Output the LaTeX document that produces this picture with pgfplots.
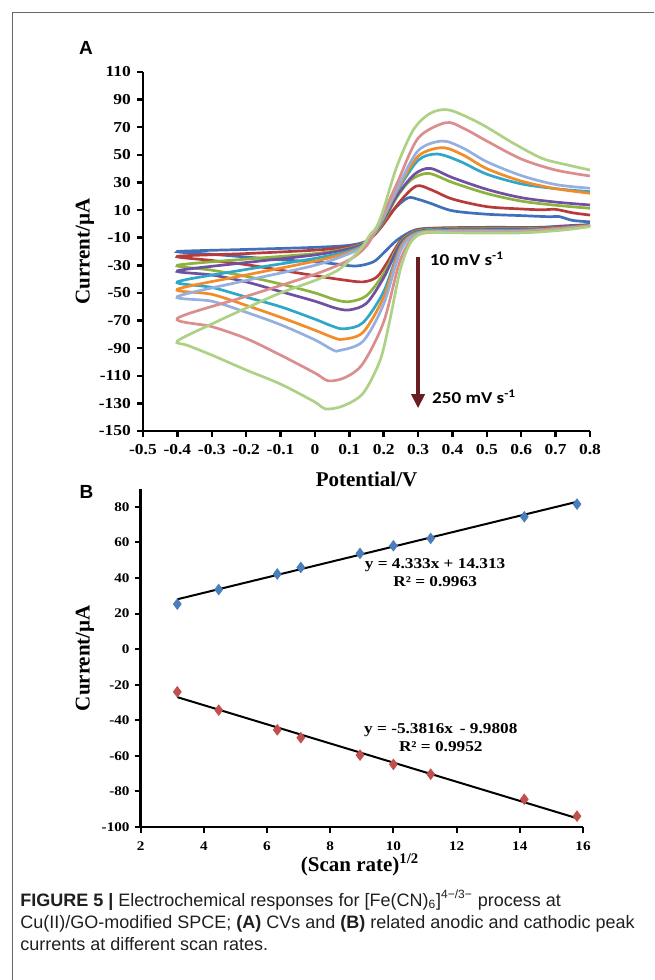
\documentclass[border=0pt]{standalone}
\usepackage{fontspec}
\setmainfont{Liberation Serif}
\newfontfamily\cf{Liberation Serif}[FakeStretch=1.15]
\newfontfamily\calfont{Carlito}[FakeStretch=1.15]
\newfontfamily\capfont{Liberation Sans}
\usepackage{pgfplots}
\pgfplotsset{compat=1.18}
\usetikzlibrary{arrows.meta}

\definecolor{cvA}{HTML}{4070B9}
\definecolor{cvB}{HTML}{B83B3B}
\definecolor{cvC}{HTML}{8DB33F}
\definecolor{cvD}{HTML}{7050A0}
\definecolor{cvE}{HTML}{2EA8C6}
\definecolor{cvF}{HTML}{F28C28}
\definecolor{cvG}{HTML}{95B0E0}
\definecolor{cvH}{HTML}{DB8E8E}
\definecolor{cvI}{HTML}{AED285}
\definecolor{arrowc}{HTML}{6B1E22}
\definecolor{anod}{HTML}{4A7EBB}
\definecolor{cath}{HTML}{C0504D}

\newcommand{\labfont}{\bfseries\fontsize{10.5}{11}\selectfont}

\pgfplotsset{
  panel/.style={
    scale only axis, clip=false,
    axis x line=bottom, axis y line=left,
    axis line style={-, line width=1.4pt, black},
    tick style={black, line width=1.2pt},
    tick align=outside, major tick length=3pt,
  },
}

\begin{document}
\begin{tikzpicture}
\useasboundingbox (0,0) rectangle (327pt,-490pt);
\draw[black!60, line width=0.5pt] (6pt,-490pt) -- (6pt,-6pt) -- (327pt,-6pt);

\node[font=\capfont\bfseries\fontsize{9.5}{10}\selectfont] at (43pt,-24pt) {A};
\node[font=\capfont\bfseries\fontsize{9.5}{10}\selectfont] at (43.3pt,-245.8pt) {B};

% ---------------- panel A: cyclic voltammograms
\begin{axis}[panel,
  at={(71.5pt,-215.5pt)}, anchor=south west,
  width=223.5pt, height=179.5pt,
  xmin=-0.5, xmax=0.8, ymin=-150, ymax=110,
  xtick={-0.5,-0.4,-0.3,-0.2,-0.1,0,0.1,0.2,0.3,0.4,0.5,0.6,0.7,0.8},
  xticklabels={-0.5,-0.4,-0.3,-0.2,-0.1,0,0.1,0.2,0.3,0.4,0.5,0.6,0.7,0.8},
  ytick={-150,-130,-110,-90,-70,-50,-30,-10,10,30,50,70,90,110},
  yticklabels={-150,-130,-110,-90,-70,-50,-30,-10,10,30,50,70,90,110},
  ticklabel style={font=\cf\bfseries\fontsize{7.6}{8}\selectfont},
  xticklabel style={yshift=0pt},
  yticklabel style={xshift=0.5pt},
  xlabel={Potential/V}, ylabel={Current/µA},
  every axis x label/.style={at={(axis description cs:0.5,-0.135)},anchor=center,font=\labfont},
  every axis y label/.style={at={(axis description cs:-0.13,0.5)},rotate=90,anchor=center,font=\labfont},
  every axis plot/.append style={line width=1.35pt, smooth, tension=0.5, mark=none},
]
% 10 mV/s
\addplot[cvA] coordinates {(0.8,1.5) (0.75,2.5) (0.71,5.3) (0.68,5.2) (0.6,6) (0.5,7) (0.4,9.5) (0.335,15) (0.3,17.8) (0.27,18.8) (0.228,10) (0.18,-6) (0.15,-12.5) (0.1,-15.5) (0,-17) (-0.2,-18.5) (-0.4,-20)
  (-0.3,-22) (-0.2,-24) (-0.1,-26) (0,-27.5) (0.06,-29) (0.12,-30.5) (0.17,-27.5) (0.2,-21) (0.24,-11.5) (0.29,-4.5) (0.35,-3) (0.5,-2.5) (0.65,-2.5) (0.72,-1.5) (0.8,-0.5)};
% 20 mV/s
\addplot[cvB] coordinates {(0.8,6.4) (0.75,8) (0.7,10.5) (0.66,10.2) (0.6,10.8) (0.5,12.5) (0.4,18) (0.34,24.5) (0.296,27.5) (0.25,17) (0.2,0) (0.18,-6) (0.15,-13) (0.1,-16.5) (0,-19) (-0.2,-21.5) (-0.4,-23.5)
  (-0.3,-26.5) (-0.2,-29.5) (-0.1,-33.5) (0,-37.5) (0.08,-40.5) (0.14,-42) (0.18,-38.5) (0.21,-28) (0.25,-12) (0.3,-4.5) (0.4,-3) (0.6,-3) (0.72,-2) (0.8,-0.8)};
% 40 mV/s
\addplot[cvC] coordinates {(0.8,11.3) (0.7,13.5) (0.6,16.5) (0.5,22) (0.4,30) (0.33,36.6) (0.28,32) (0.24,20) (0.2,2) (0.18,-5.5) (0.15,-13) (0.1,-17.5) (0,-21.5) (-0.2,-25.5) (-0.4,-30)
  (-0.3,-33.5) (-0.2,-38) (-0.1,-43.5) (0,-50) (0.06,-55) (0.1,-56.3) (0.15,-52) (0.2,-36) (0.25,-13) (0.3,-5) (0.4,-3.5) (0.6,-3.5) (0.72,-2.5) (0.8,-1)};
% 50 mV/s
\addplot[cvD] coordinates {(0.8,13.7) (0.7,15.8) (0.6,19) (0.5,25) (0.4,33.5) (0.335,40.2) (0.29,36) (0.24,21) (0.2,3) (0.18,-5) (0.15,-13.5) (0.1,-18) (0,-22.5) (-0.2,-28) (-0.4,-34)
  (-0.3,-37) (-0.2,-42) (-0.1,-49) (0,-56) (0.06,-61) (0.1,-62.3) (0.15,-57.5) (0.2,-39) (0.25,-14) (0.3,-5.5) (0.4,-4) (0.6,-4) (0.72,-2.5) (0.8,-1)};
% 80 mV/s
\addplot[cvE] coordinates {(0.8,23.3) (0.7,25.5) (0.6,29) (0.5,36) (0.42,45.5) (0.355,50.6) (0.3,46) (0.24,24) (0.2,4) (0.18,-4.5) (0.15,-14) (0.1,-19.5) (0,-25) (-0.2,-33) (-0.4,-42)
  (-0.3,-46) (-0.2,-53) (-0.1,-60) (0,-69) (0.05,-74) (0.085,-76) (0.14,-71.5) (0.2,-49) (0.25,-16) (0.3,-6) (0.4,-4.5) (0.6,-4.5) (0.72,-3) (0.8,-1.2)};
% 100 mV/s
\addplot[cvF] coordinates {(0.8,22.2) (0.7,25.5) (0.6,31) (0.5,40) (0.43,50) (0.37,55.2) (0.3,49) (0.24,25) (0.2,5) (0.18,-4) (0.15,-14.5) (0.1,-20.5) (0,-27) (-0.2,-37) (-0.4,-47.4)
  (-0.3,-51) (-0.2,-59) (-0.1,-67.6) (0,-77) (0.05,-82) (0.08,-83.6) (0.14,-78.5) (0.2,-53) (0.25,-17) (0.3,-6.5) (0.4,-5) (0.6,-5) (0.72,-3) (0.8,-1.2)};
% 125 mV/s
\addplot[cvG] coordinates {(0.8,25.8) (0.7,28.5) (0.6,35) (0.5,45) (0.43,55) (0.37,60) (0.3,53) (0.24,26) (0.2,6) (0.18,-3.5) (0.15,-15) (0.1,-21.5) (0,-30) (-0.2,-41) (-0.4,-52.7)
  (-0.3,-56) (-0.2,-64) (-0.1,-73) (0,-84) (0.05,-91) (0.07,-91.8) (0.14,-85) (0.2,-58) (0.25,-19) (0.3,-7) (0.4,-5.5) (0.6,-5.5) (0.72,-3.5) (0.8,-1.5)};
% 200 mV/s
\addplot[cvH] coordinates {(0.8,34.7) (0.7,39) (0.6,47) (0.5,60) (0.43,69.5) (0.38,73.3) (0.3,62) (0.24,30) (0.2,8) (0.18,-2.5) (0.15,-16) (0.1,-26) (0,-36.5) (-0.2,-52.5) (-0.4,-68.4)
  (-0.3,-74.4) (-0.2,-83) (-0.1,-95) (0,-108) (0.04,-113.7) (0.09,-111) (0.14,-101) (0.2,-71) (0.25,-25) (0.3,-8) (0.4,-6) (0.6,-6) (0.72,-4) (0.8,-1.5)};
% 250 mV/s
\addplot[cvI] coordinates {(0.8,39) (0.72,43.5) (0.66,47.5) (0.577,58.4) (0.48,72.8) (0.39,82.5) (0.335,80) (0.286,68) (0.238,41.4) (0.2,11) (0.18,-2) (0.16,-8) (0.13,-19) (0.07,-33) (0,-41) (-0.1,-50) (-0.2,-61) (-0.3,-72.5) (-0.4,-84.8)
  (-0.37,-88) (-0.3,-95) (-0.2,-105.8) (-0.1,-116) (0,-129) (0.03,-134) (0.08,-132) (0.14,-122.7) (0.19,-98.5) (0.218,-69.6) (0.248,-33.4) (0.277,-14) (0.315,-6.5) (0.4,-6.5) (0.6,-6.5) (0.72,-4.5) (0.8,-2)};

\draw[arrowc, line width=2pt, -{Triangle[width=6.5pt,length=7pt]}] (axis cs:0.30,-24.2) -- (axis cs:0.30,-133.5);
\node[anchor=base west, inner sep=0pt, font=\calfont\bfseries\fontsize{8.3}{9}\selectfont] at (axis cs:0.333,-29.8) {10 mV s\textsuperscript{-1}};
\node[anchor=base west, inner sep=0pt, font=\calfont\bfseries\fontsize{8.3}{9}\selectfont] at (axis cs:0.34,-129.9) {250 mV s\textsuperscript{-1}};
\end{axis}

% ---------------- panel B: peak current vs sqrt(scan rate)
\begin{axis}[panel,
  at={(70.3pt,-413.5pt)}, anchor=south west,
  width=221.2pt, height=169pt,
  xmin=2, xmax=16, ymin=-100, ymax=90,
  axis line style={-, line width=1.2pt, black},
  tick style={black, line width=1pt},
  xtick={2,4,6,8,10,12,14,16},
  xticklabels={2,4,6,8,10,12,14,16},
  ytick={-100,-80,-60,-40,-20,0,20,40,60,80},
  yticklabels={-100,-80,-60,-40,-20,0,20,40,60,80},
  ticklabel style={font=\cf\bfseries\fontsize{6.6}{7}\selectfont},
  xticklabel style={yshift=-1pt},
  yticklabel style={xshift=1pt},
  xlabel={(Scan rate)\textsuperscript{1/2}}, ylabel={Current/µA},
  every axis x label/.style={at={(axis description cs:0.496,-0.112)},anchor=center,font=\labfont},
  every axis y label/.style={at={(axis description cs:-0.126,0.5)},rotate=90,anchor=center,font=\labfont},
]
\addplot[black, line width=1pt, mark=none] coordinates {(3.162,28.01) (15.811,82.82)};
\addplot[black, line width=1pt, mark=none] coordinates {(3.162,-27.00) (15.811,-95.07)};
\addplot[only marks, mark=diamond*, mark size=2.6pt, mark options={fill=anod, draw=anod}] coordinates {
  (3.162,25.3) (4.472,33.5) (6.325,42.2) (7.071,45.9) (8.944,53.8) (10,58.1) (11.180,62.2) (14.142,74.4) (15.811,81.5)};
\addplot[only marks, mark=diamond*, mark size=2.6pt, mark options={fill=cath, draw=cath}] coordinates {
  (3.162,-24) (4.472,-34.3) (6.325,-45.4) (7.071,-49.8) (8.944,-59.6) (10,-64.8) (11.180,-70.3) (14.142,-84.4) (15.811,-93.9)};
\node[font=\cf\bfseries\fontsize{7.5}{8}\selectfont, align=center, inner sep=0pt] at (axis cs:11.32,43) {y = 4.333x + 14.313\\[1pt] R² = 0.9963};
\node[font=\cf\bfseries\fontsize{7.5}{8}\selectfont, align=center, inner sep=0pt] at (axis cs:11.5,-50) {y = -5.3816x\, - 9.9808\\[1pt] R² = 0.9952};
\end{axis}

% ---------------- caption
\begin{scope}[every node/.style={anchor=base west, inner sep=0pt, text=black!88, font=\capfont\fontsize{9}{10}\selectfont}]
\node at (10pt,-453.3pt) {\textbf{FIGURE 5 |} Electrochemical responses for [Fe(CN)\textsubscript{6}]\textsuperscript{4−/3−} process at};
\node at (10pt,-464.4pt) {Cu(II)/GO-modified SPCE; \textbf{(A)} CVs and \textbf{(B)} related anodic and cathodic peak};
\node at (10pt,-475.2pt) {currents at different scan rates.};
\end{scope}
\end{tikzpicture}
\end{document}
